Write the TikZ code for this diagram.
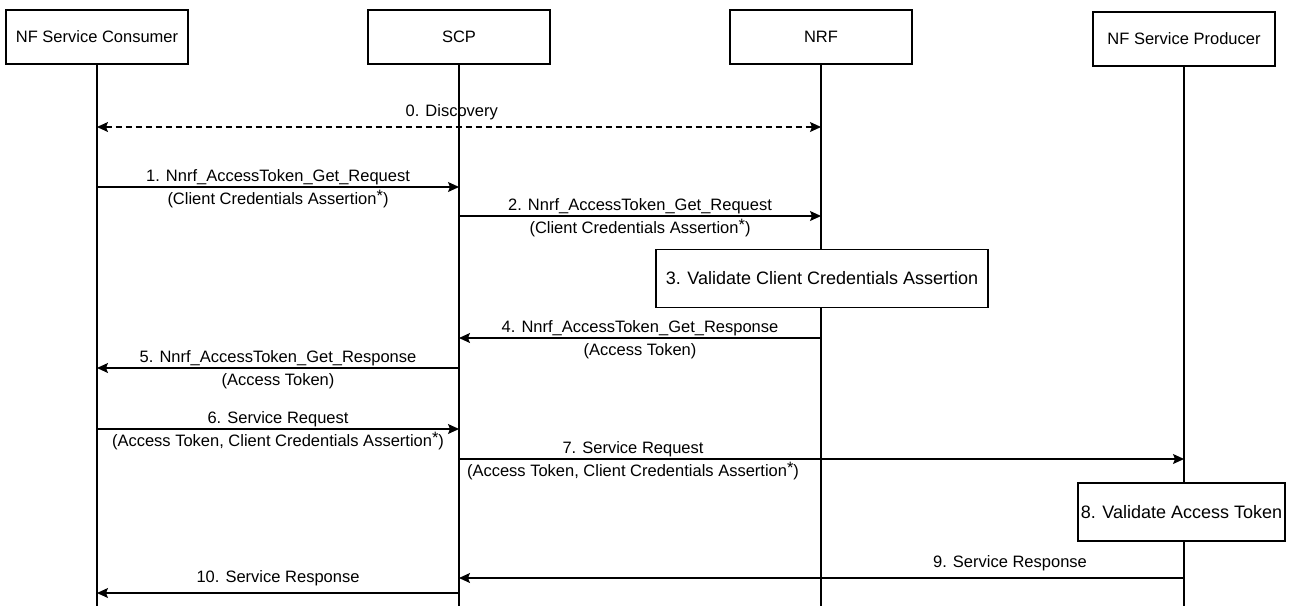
\documentclass[tikz,border=0pt]{standalone}
\usepackage{fontspec}
\setmainfont{Liberation Sans}
\usetikzlibrary{arrows.meta}
\newcommand{\supstar}{\raisebox{3.5pt}{*}}
\begin{document}
\begin{tikzpicture}[x=1pt,y=-1pt,>={Stealth[length=11pt,width=10pt,inset=2pt]},line width=1.2pt,
  entity/.style={draw,fill=white,minimum width=182pt,minimum height=54pt,inner sep=0pt,font=\fontsize{16.5}{20}\selectfont},
  action/.style={draw,fill=white,minimum height=58pt,inner sep=0pt,font=\fontsize{18}{22}\selectfont},
  msg/.style={inner sep=0pt,text height=12pt,text depth=4pt,font=\fontsize{16.5}{20}\selectfont},
  msgup/.style={msg,above=1pt},
  msgdn/.style={msg,below=5pt}]
\useasboundingbox (0,0) rectangle (1290,606);
\node[entity] (Cons) at (97,37) {NF Service Consumer};
\node[entity] (SCP) at (459,37) {SCP};
\node[entity] (NRF) at (821,37) {NRF};
\node[entity] (Prod) at (1184,39) {NF Service Producer};
\coordinate (ConsEnd) at (97,606);
\coordinate (SCPEnd) at (459,606);
\coordinate (NRFEnd) at (821,606);
\coordinate (ProdEnd) at (1184,606);
\draw (Cons) -- (ConsEnd);
\draw (SCP) -- (SCPEnd);
\draw (NRF) -- (NRFEnd);
\draw (Prod) -- (ProdEnd);
\node[action,minimum width=332pt] (Check) at (822,278.5) {3. Validate Client Credentials Assertion};
\node[action,minimum width=207pt] (Verify) at (1181.5,512) {8. Validate Access Token};
\coordinate (c0) at (97,127);
\coordinate (n0) at (821,127);
\coordinate (c1) at (97,187);
\coordinate (s1) at (459,187);
\coordinate (s2) at (459,216);
\coordinate (n2) at (821,216);
\coordinate (n4) at (821,338);
\coordinate (s4) at (459,338);
\coordinate (s5) at (459,368);
\coordinate (c5) at (97,368);
\coordinate (c6) at (97,429);
\coordinate (s6) at (459,429);
\coordinate (s7) at (459,459);
\coordinate (p7) at (1184,459);
\coordinate (p9) at (1184,578);
\coordinate (s9) at (459,578);
\coordinate (s10) at (459,593);
\coordinate (c10) at (97,593);
\draw[<->,dash pattern=on 6pt off 4pt] (c0) -- node[msg,above=6pt,pos=.49] {0. Discovery} (n0);
\draw[->] (c1) -- node[msgup] {1. Nnrf\_AccessToken\_Get\_Request} node[msgdn] {(Client Credentials Assertion\supstar)} (s1);
\draw[->] (s2) -- node[msgup] {2. Nnrf\_AccessToken\_Get\_Request} node[msgdn] {(Client Credentials Assertion\supstar)} (n2);
\draw[->] (n4) -- node[msgup] {4. Nnrf\_AccessToken\_Get\_Response} node[msgdn] {(Access Token)} (s4);
\draw[->] (s5) -- node[msgup] {5. Nnrf\_AccessToken\_Get\_Response} node[msgdn] {(Access Token)} (c5);
\draw[->] (c6) -- node[msgup] {6. Service Request} node[msgdn] {(Access Token, Client Credentials Assertion\supstar)} (s6);
\draw[->] (s7) -- node[msgup,pos=.24] {7. Service Request} node[msgdn,pos=.24] {(Access Token, Client Credentials Assertion\supstar)} (p7);
\draw[->] (p9) -- node[msg,above=6pt,pos=.24] {9. Service Response} (s9);
\draw[->] (s10) -- node[msg,above=6pt] {10. Service Response} (c10);
\end{tikzpicture}
\end{document}
